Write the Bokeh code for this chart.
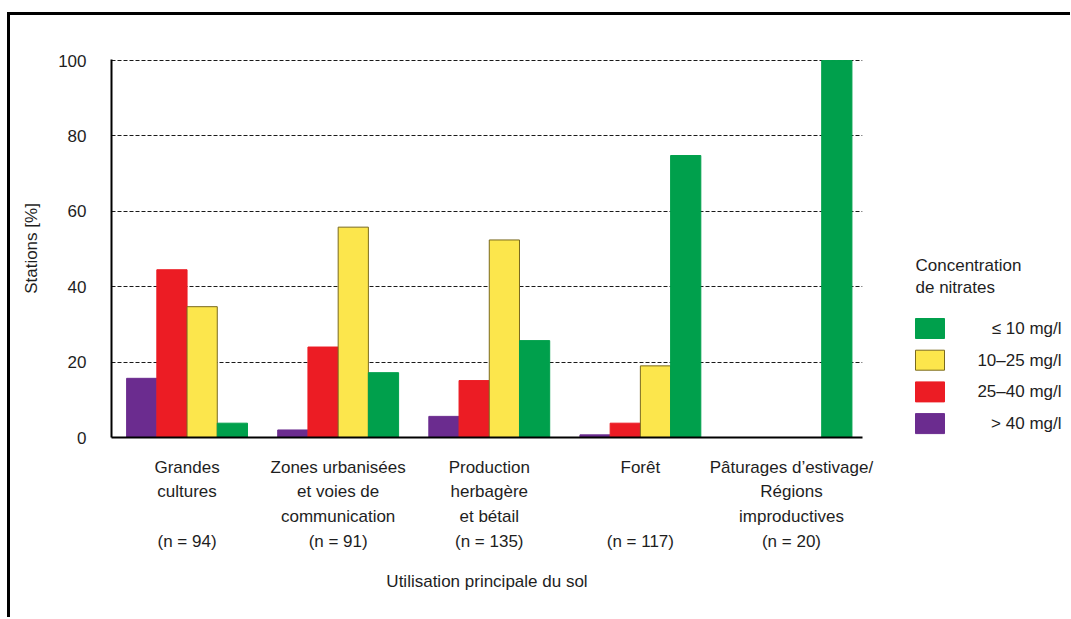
from bokeh.plotting import figure
from bokeh.layouts import row
from bokeh.models import ColumnDataSource, Range1d, FixedTicker
from bokeh.core.properties import value
from bokeh.embed import file_html
from bokeh.resources import INLINE

# ---- data ----
category_labels = [
    "Grandes\ncultures\n\u00a0\n(n = 94)",
    "Zones urbanisées\net voies de\ncommunication\n(n = 91)",
    "Production\nherbagère\net bétail\n(n = 135)",
    "Forêt\n\u00a0\n\u00a0\n(n = 117)",
    "Pâturages d’estivage/\nRégions\nimproductives\n(n = 20)",
]
series_names = ["> 40 mg/l", "25–40 mg/l", "10–25 mg/l", "≤ 10 mg/l"]
over_40 = [15.7, 2.0, 5.6, 0.7, 0.0]
from_25_to_40 = [44.5, 24.0, 15.1, 3.8, 0.0]
from_10_to_25 = [34.7, 55.8, 52.4, 19.0, 0.0]
up_to_10 = [3.8, 17.2, 25.7, 74.8, 100.0]
y_ticks = [0, 20, 40, 60, 80, 100]
legend_title = ["Concentration", "de nitrates"]

colors = ["#6B2C8F", "#EC1C24", "#FCE64C", "#00A04C"]
outlines = ["#6B2C8F", "#EC1C24", "#7A6A1E", "#00A04C"]
FONT = "Liberation Sans"
FS = "17px"
TXT = "#1e1e1e"

# layout geometry (page pixels)
H = 602
W_MAIN = 870
W_LEG = 190
OX, OY = 10, 15              # page position of the figures' top-left corner
F_LEFT, F_RIGHT, F_TOP, F_BOTTOM = 111, 862, 59, 437   # plot frame on the page

p = figure(width=W_MAIN, height=H, output_backend="svg", toolbar_location=None,
           x_range=Range1d(-0.5, 4.47), y_range=Range1d(0, 100.27),
           min_border_left=F_LEFT - OX, min_border_right=W_MAIN - (F_RIGHT - OX),
           min_border_top=F_TOP - OY, min_border_bottom=H - (F_BOTTOM - OY))
p.outline_line_color = None
p.background_fill_color = "white"
p.border_fill_color = "white"

series = [over_40, from_25_to_40, from_10_to_25, up_to_10]
offsets = [-0.3, -0.1, 0.1, 0.3]
for vals, off, c, lc in zip(series, offsets, colors, outlines):
    src = ColumnDataSource(dict(x=[i + off for i in range(len(vals))], top=vals))
    p.vbar(x="x", top="top", bottom=0, width=0.2, source=src,
           fill_color=c, line_color=lc, line_width=1)

# axes
p.xaxis.ticker = FixedTicker(ticks=list(range(len(category_labels))))
p.xaxis.major_label_overrides = {i: lab for i, lab in enumerate(category_labels)}
p.yaxis.ticker = FixedTicker(ticks=y_ticks)
for ax in (p.xaxis[0], p.yaxis[0]):
    ax.major_tick_out = 0
    ax.major_tick_in = 0
    ax.minor_tick_out = 0
    ax.minor_tick_in = 0
    ax.axis_line_width = 2
    ax.axis_line_color = "black"
    ax.major_label_text_font = FONT
    ax.major_label_text_font_size = FS
    ax.major_label_text_color = TXT
    ax.axis_label_text_font = FONT
    ax.axis_label_text_font_size = FS
    ax.axis_label_text_font_style = "normal"
    ax.axis_label_text_color = TXT

p.xaxis.major_label_text_line_height = 1.3
p.xaxis.major_label_standoff = 20
p.xaxis.axis_label = "Utilisation principale du sol"
p.xaxis.axis_label_standoff = 18
p.yaxis.major_label_standoff = 25
p.yaxis.axis_label = "Stations [%]"
p.yaxis.axis_label_standoff = 14

p.xgrid.grid_line_color = None
p.ygrid.grid_line_color = "#1a1a1a"
p.ygrid.grid_line_dash = "4 2"
p.ygrid.grid_line_width = 1

# ---- legend panel (coordinates in page pixels; frame aligned with main frame) ----
lx0 = OX + W_MAIN
leg = figure(width=W_LEG, height=H, output_backend="svg", toolbar_location=None,
             x_range=Range1d(lx0, lx0 + W_LEG), y_range=Range1d(F_BOTTOM, F_TOP),
             x_axis_type=None, y_axis_type=None,
             min_border_left=0, min_border_right=0,
             min_border_top=F_TOP - OY, min_border_bottom=H - (F_BOTTOM - OY))
leg.outline_line_color = None
leg.xgrid.grid_line_color = None
leg.ygrid.grid_line_color = None
leg.background_fill_color = "white"
leg.border_fill_color = "white"

sw_left, sw_w, sw_h, sw_top0, sw_step = 915, 29, 20, 318, 31.7
label_right = 1061
order = [3, 2, 1, 0]
leg_src = ColumnDataSource(dict(
    left=[sw_left] * 4,
    right=[sw_left + sw_w] * 4,
    top=[sw_top0 + k * sw_step for k in range(4)],
    bottom=[sw_top0 + k * sw_step + sw_h for k in range(4)],
    ymid=[sw_top0 + k * sw_step + sw_h / 2 for k in range(4)],
    xr=[label_right] * 4,
    fill=[colors[i] for i in order],
    line=[outlines[i] for i in order],
    label=[series_names[i] for i in order],
))
leg.quad(left="left", right="right", top="top", bottom="bottom", source=leg_src,
         fill_color="fill", line_color="line", line_width=1)
leg.text(x="xr", y="ymid", text="label", source=leg_src,
         text_font=value(FONT), text_font_size=value(FS), text_color=TXT,
         text_align="right", text_baseline="middle")
title_src = ColumnDataSource(dict(x=[sw_left, sw_left], y=[265, 287], t=legend_title))
leg.text(x="x", y="y", text="t", source=title_src,
         text_font=value(FONT), text_font_size=value(FS), text_color=TXT,
         text_align="left", text_baseline="middle")

layout = row(p, leg, styles={"border-top": "3px solid black",
                             "border-left": "3px solid black",
                             "margin-top": "12px",
                             "margin-left": "7px"})

open("out.html", "w").write(file_html(layout, INLINE))
